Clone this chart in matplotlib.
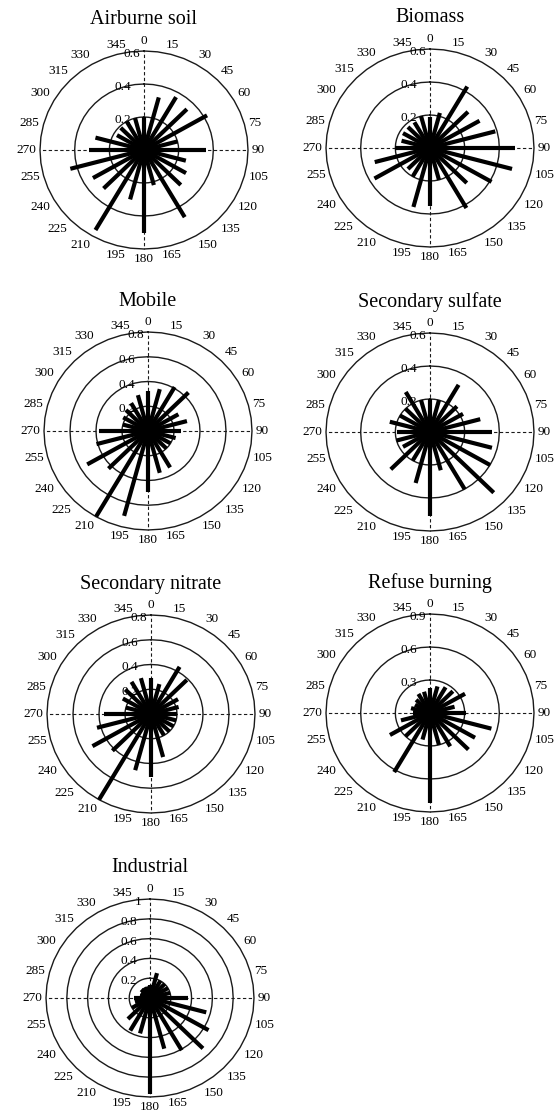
import numpy as np
import matplotlib
matplotlib.use("Agg")
import matplotlib.pyplot as plt

plt.rcParams['font.family'] = ['Liberation Serif', 'DejaVu Serif']

# wind sectors, every 15 degrees
directions = np.arange(0, 360, 15)
dir_labels = [str(d) for d in directions]

titles = ["Airburne soil", "Biomass", "Mobile", "Secondary sulfate",
          "Secondary nitrate", "Refuse burning", "Industrial"]

airburne_soil = [0.20, 0.33, 0.37, 0.35, 0.42, 0.20, 0.36, 0.25, 0.28, 0.30, 0.47, 0.22,
                 0.50, 0.31, 0.56, 0.33, 0.34, 0.44, 0.32, 0.29, 0.18, 0.19, 0.20, 0.20]
biomass = [0.19, 0.22, 0.43, 0.31, 0.33, 0.39, 0.49, 0.49, 0.41, 0.30, 0.42, 0.20,
           0.35, 0.37, 0.20, 0.18, 0.37, 0.33, 0.20, 0.17, 0.18, 0.18, 0.18, 0.20]
mobile = [0.32, 0.35, 0.41, 0.44, 0.27, 0.31, 0.25, 0.22, 0.20, 0.20, 0.34, 0.35,
          0.49, 0.71, 0.80, 0.43, 0.54, 0.41, 0.38, 0.20, 0.22, 0.24, 0.26, 0.30]
sec_sulfate = [0.20, 0.20, 0.33, 0.22, 0.22, 0.30, 0.36, 0.37, 0.40, 0.52, 0.40, 0.24,
               0.51, 0.32, 0.20, 0.32, 0.18, 0.20, 0.19, 0.24, 0.20, 0.20, 0.28, 0.20]
sec_nitrate = [0.29, 0.25, 0.44, 0.39, 0.24, 0.22, 0.20, 0.20, 0.20, 0.20, 0.20, 0.36,
               0.51, 0.47, 0.81, 0.42, 0.52, 0.43, 0.36, 0.20, 0.25, 0.28, 0.30, 0.30]
refuse_burning = [0.23, 0.25, 0.27, 0.28, 0.35, 0.22, 0.31, 0.55, 0.45, 0.47, 0.35, 0.30,
                  0.82, 0.25, 0.62, 0.30, 0.40, 0.26, 0.15, 0.17, 0.15, 0.17, 0.20, 0.20]
industrial = [0.13, 0.26, 0.20, 0.20, 0.20, 0.20, 0.37, 0.56, 0.65, 0.72, 0.61, 0.53,
              0.97, 0.37, 0.38, 0.30, 0.20, 0.15, 0.15, 0.10, 0.10, 0.12, 0.12, 0.12]

radial_ticks = [[0.2, 0.4, 0.6], [0.2, 0.4, 0.6], [0.2, 0.4, 0.6, 0.8], [0.2, 0.4, 0.6],
                [0.2, 0.4, 0.6, 0.8], [0.3, 0.6, 0.9], [0.2, 0.4, 0.6, 0.8, 1.0]]

series = [airburne_soil, biomass, mobile, sec_sulfate, sec_nitrate, refuse_burning, industrial]

# panel centres in pixels (from top-left) and half sizes
W, H = 555, 1116
centres = [(144, 150), (430, 148), (148, 431), (430, 432), (151, 714), (430, 713), (150, 998)]
RX, RY = 104, 99

fig = plt.figure(figsize=(W / 100, H / 100), dpi=100)


def draw_rose(ax, values, rticks, title):
    rmax = rticks[-1]
    ax.set_theta_zero_location('N')
    ax.set_theta_direction(-1)
    ax.set_ylim(0, rmax)
    ax.set_xticks([])
    ax.set_yticks([])
    ax.grid(False)
    ax.spines['polar'].set_visible(False)
    ax.set_aspect('auto')

    # rings
    th = np.linspace(0, 2 * np.pi, 49)
    for r in rticks:
        ax.plot(th, np.full_like(th, r), color='#1a1a1a', lw=1.0, clip_on=False, zorder=2)

    # dashed cross
    ax.vlines(np.deg2rad([0, 90, 180, 270]), 0, rmax, colors='#1a1a1a', lw=0.8,
              linestyles=(0, (3.0, 2.2)), zorder=2, clip_on=False)

    # rays
    ax.vlines(np.deg2rad(directions), 0, values, colors='black', lw=3.0, zorder=5,
              capstyle='butt')

    # radial labels (outermost nudged right so it clears the "345" label)
    for r in rticks:
        dx = -12 if r == rmax else -21
        ax.annotate(f"{r:g}", xy=(0, r), xytext=(dx, -3), textcoords='offset pixels',
                    ha='center', va='center', fontsize=9.5, zorder=3)

    # direction labels
    for d, lab in zip(directions, dir_labels):
        s, c = np.sin(np.deg2rad(d)), np.cos(np.deg2rad(d))
        ha = 'left' if s > 0.3 else ('right' if s < -0.3 else 'center')
        va = 'bottom' if c > 0.3 else ('top' if c < -0.3 else 'center')
        ax.annotate(lab, xy=(np.deg2rad(d), rmax), xytext=(4 * s, 4 * c),
                    textcoords='offset pixels', ha=ha, va=va, fontsize=9.5,
                    annotation_clip=False)

    ax.annotate(title, xy=(0.5, 1.0), xycoords='axes fraction', xytext=(0, 31),
                textcoords='offset pixels', ha='center', va='center', fontsize=14.5)


for (cx, cy), vals, rt, t in zip(centres, series, radial_ticks, titles):
    ax = fig.add_axes([(cx - RX) / W, (H - cy - RY) / H, 2 * RX / W, 2 * RY / H],
                      projection='polar')
    draw_rose(ax, vals, rt, t)

fig.savefig("out.png", dpi=100, facecolor='white')
